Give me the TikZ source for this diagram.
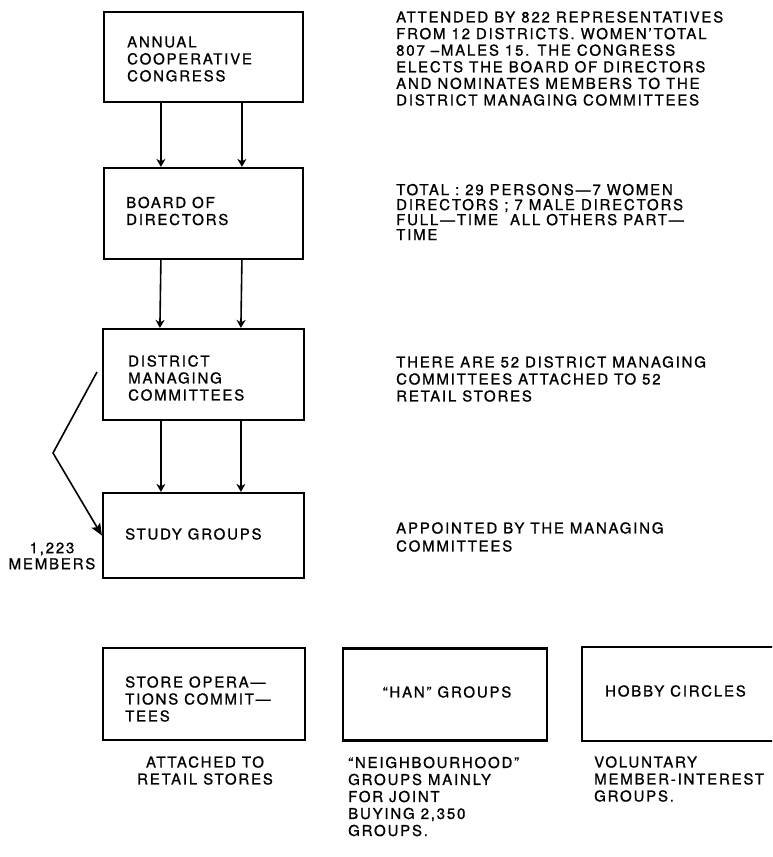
\documentclass[tikz,border=0pt]{standalone}
\usepackage{fontspec}
\setmainfont{TeX Gyre Heros}[LetterSpace=12, FakeBold=1]
\usetikzlibrary{arrows.meta}
\begin{document}
\begin{tikzpicture}[x=1pt,y=-1pt,
  box/.style={draw, line width=2.2pt, inner sep=0pt},
  txt/.style={inner sep=0pt, align=left, font=\fontsize{15}{17}\selectfont},
  arr/.style={line width=1.6pt, -{Stealth[length=8pt,width=9pt,inset=2.5pt]}},
  bigarr/.style={line width=1.6pt, -{Stealth[length=12pt,width=10pt,inset=2.5pt]}}]
\useasboundingbox (0,0) rectangle (772,857);
\clip (0,0) rectangle (772,857);
% boxes
\node[box, minimum width=199pt, minimum height=90pt] (b1) at (203.5,57) {};
\node[box, minimum width=199pt, minimum height=91pt] (b2) at (203.5,213.5) {};
\node[box, minimum width=201pt, minimum height=91pt] (b3) at (203.5,374.5) {};
\node[box, minimum width=201pt, minimum height=85pt] (b4) at (203.5,535.5) {};
\node[box, minimum width=202pt, minimum height=92pt] (b5) at (204,694) {};
\node[box, minimum width=204pt, minimum height=92pt] (b6) at (445,694.5) {};
\node[box, minimum width=218pt, minimum height=94pt] (b7) at (691,694) {};
% box texts
\node[txt, anchor=west] (tb1) at (127,59) {ANNUAL\\COOPERATIVE\\CONGRESS};
\node[txt, anchor=west] (tb2) at (126,211) {BOARD OF\\DIRECTORS};
\node[txt, anchor=west] (tb3) at (128,378) {DISTRICT\\MANAGING\\COMMITTEES};
\node[txt, anchor=west] (tb4) at (125,534) {STUDY GROUPS};
\node[txt, anchor=west] (tb5) at (125,699) {STORE OPERA—\\TIONS COMMIT—\\TEES};
\node[txt] (tb6) at (447,692) {“HAN” GROUPS};
\node[txt, anchor=west] (tb7) at (605,691) {HOBBY CIRCLES};
% arrows
\draw[arr] ([xshift=58pt]b1.south west) -- ([xshift=58pt]b2.north west);
\draw[arr] ([xshift=139pt]b1.south west) -- ([xshift=139pt]b2.north west);
\draw[arr] ([xshift=58pt]b2.south west) -- ([xshift=58pt]b3.north west);
\draw[arr] ([xshift=139pt]b2.south west) -- ([xshift=139pt]b3.north west);
\draw[arr] ([xshift=59pt]b3.south west) -- ([xshift=59pt]b4.north west);
\draw[arr] ([xshift=139pt]b3.south west) -- ([xshift=139pt]b4.north west);
\coordinate (bs) at (97,372);
\coordinate (bv) at (53,453);
\draw[bigarr] (bs) -- (bv) -- (b4.west);
\node[txt, align=center, font=\fontsize{15}{16}\selectfont] (mem) at (52,556) {1,223\\MEMBERS};
% right column
\node[txt, anchor=west, font=\fontsize{15}{16.6}\selectfont] (r1) at (396,58.5) {ATTENDED BY 822 REPRESENTATIVES\\FROM 12 DISTRICTS. WOMEN'TOTAL\\807 –MALES 15. THE CONGRESS\\ELECTS THE BOARD OF DIRECTORS\\AND NOMINATES MEMBERS TO THE\\DISTRICT MANAGING COMMITTEES};
\node[txt, anchor=west, font=\fontsize{15}{15}\selectfont] (r2) at (396,212) {TOTAL : 29 PERSONS—7 WOMEN\\DIRECTORS ; 7 MALE DIRECTORS\\FULL—TIME \ ALL OTHERS PART—\\TIME};
\node[txt, anchor=west] (r3) at (396,379) {THERE ARE 52 DISTRICT MANAGING\\COMMITTEES ATTACHED TO 52\\RETAIL STORES};
\node[txt, anchor=west, font=\fontsize{15}{18}\selectfont] (r4) at (396,537) {APPOINTED BY THE MANAGING\\COMMITTEES};
% bottom captions
\node[txt, align=center] (u5) at (205,770.5) {ATTACHED TO\\RETAIL STORES};
\node[txt, anchor=west] (u6) at (348,796.5) {“NEIGHBOURHOOD”\\GROUPS MAINLY\\FOR JOINT\\BUYING 2,350\\GROUPS.};
\node[txt, anchor=west] (u7) at (594,779) {VOLUNTARY\\MEMBER-INTEREST\\GROUPS.};
\end{tikzpicture}
\end{document}
